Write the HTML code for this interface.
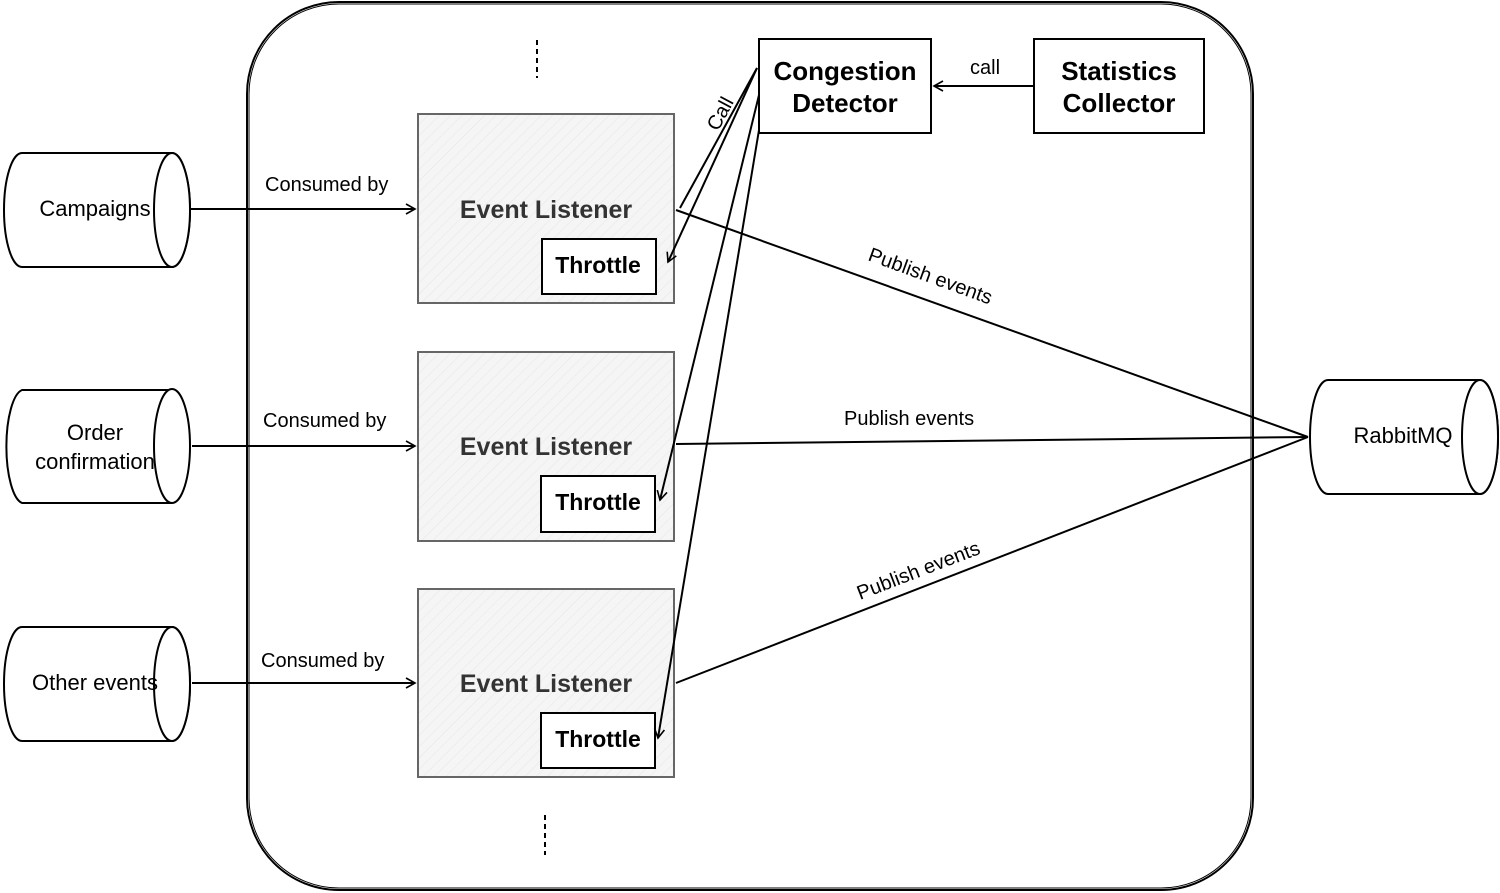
<!DOCTYPE html>
<html><head><meta charset="utf-8"><style>
body{margin:0;background:#fff;}
svg{display:block;font-family:"Liberation Sans",Arial,sans-serif;}
</style></head><body>
<svg width="1500" height="893" viewBox="0 0 1500 893" xmlns="http://www.w3.org/2000/svg">
<defs>
<pattern id="h" width="8" height="8" patternUnits="userSpaceOnUse" patternTransform="rotate(45)">
<rect width="8" height="8" fill="#f5f5f5"/><line x1="0" y1="0" x2="0" y2="8" stroke="#e6e6e6" stroke-width="1"/></pattern>
<marker id="a" markerWidth="12" markerHeight="12" refX="10" refY="6" orient="auto" markerUnits="userSpaceOnUse">
<path d="M1,1 L10,6 L1,11" fill="none" stroke="#000" stroke-width="1.6"/></marker>
</defs>
<g fill="none" stroke="#000" stroke-width="2">
<rect x="247" y="2" width="1006" height="888" rx="92"/>
<rect x="249" y="4" width="1002" height="884" rx="90" stroke-width="1"/>
<path d="M537 40 L537 78" stroke-dasharray="5 4"/>
<path d="M545 815 L545 855" stroke-dasharray="5 4"/>
</g>
<g fill="#fff" stroke="#000" stroke-width="2">
<path d="M22 153 H172 A18 57 0 0 1 172 267 H22 A18 57 0 0 1 22 153 Z"/><ellipse cx="172" cy="210" rx="18" ry="57"/>
<path d="M22 390 H172 A18 57 0 0 1 172 503 H22 A18 57 0 0 1 22 390 Z"/><ellipse cx="172" cy="446" rx="18" ry="57"/>
<path d="M22 627 H172 A18 57 0 0 1 172 741 H22 A18 57 0 0 1 22 627 Z"/><ellipse cx="172" cy="684" rx="18" ry="57"/>
<path d="M1328 380 H1480 A18 57 0 0 1 1480 494 H1328 A18 57 0 0 1 1328 380 Z"/><ellipse cx="1480" cy="437" rx="18" ry="57"/>
</g>
<g font-size="22" text-anchor="middle" fill="#000">
<text x="95" y="216">Campaigns</text>
<text x="95" y="440">Order</text><text x="95" y="469">confirmation</text>
<text x="95" y="690">Other events</text>
<text x="1403" y="443">RabbitMQ</text>
</g>
<g fill="url(#h)" stroke="#666" stroke-width="2">
<rect x="418" y="114" width="256" height="189"/>
<rect x="418" y="352" width="256" height="189"/>
<rect x="418" y="589" width="256" height="188"/>
</g>
<g font-size="25" font-weight="bold" text-anchor="middle" fill="#333">
<text x="546" y="218">Event Listener</text>
<text x="546" y="455">Event Listener</text>
<text x="546" y="692">Event Listener</text>
</g>
<g fill="#fff" stroke="#000" stroke-width="2">
<rect x="542" y="239" width="114" height="55"/>
<rect x="541" y="476" width="114" height="56"/>
<rect x="541" y="713" width="114" height="55"/>
<rect x="759" y="39" width="172" height="94"/>
<rect x="1034" y="39" width="170" height="94"/>
</g>
<g font-size="23" font-weight="bold" text-anchor="middle" fill="#000">
<text x="598" y="273">Throttle</text>
<text x="598" y="510">Throttle</text>
<text x="598" y="747">Throttle</text>
<text x="845" y="80" font-size="26">Congestion</text>
<text x="845" y="112" font-size="26">Detector</text>
<text x="1119" y="80" font-size="26">Statistics</text>
<text x="1119" y="112" font-size="26">Collector</text>
</g>
<g fill="none" stroke="#000" stroke-width="2">
<path d="M190 209 L415 209" marker-end="url(#a)"/>
<path d="M192 446 L415 446" marker-end="url(#a)"/>
<path d="M192 683 L415 683" marker-end="url(#a)"/>
<path d="M1034 86 L934 86" marker-end="url(#a)"/>
<path d="M757 68 L680 208"/>
<path d="M757 68 L668 262" marker-end="url(#a)"/>
<path d="M759 95 L660 500" marker-end="url(#a)"/>
<path d="M759 130 L658 738" marker-end="url(#a)"/>
<path d="M676 210 L1308 437"/>
<path d="M676 444 L1308 437"/>
<path d="M676 683 L1308 437"/>
</g>
<g font-size="20" fill="#000">
<text x="265" y="191">Consumed by</text>
<text x="263" y="427">Consumed by</text>
<text x="261" y="667">Consumed by</text>
<text x="970" y="74">call</text>
<text x="844" y="425">Publish events</text>
<text transform="translate(718 132) rotate(-62)">Call</text>
<text transform="translate(867 260) rotate(20)">Publish events</text>
<text transform="translate(860 600) rotate(-21)">Publish events</text>
</g>
</svg>
</body></html>
